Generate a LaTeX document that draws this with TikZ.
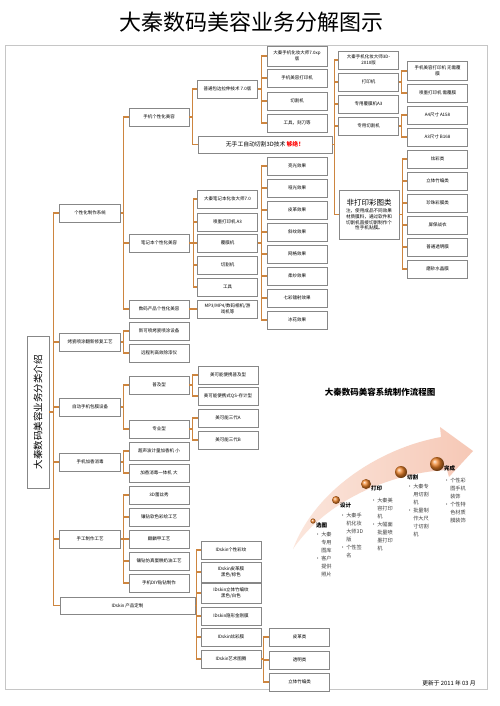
\documentclass[tikz,border=0pt]{standalone}
\usepackage{fontspec}
\setmainfont{Noto Sans CJK SC}
\usetikzlibrary{shadows}
\XeTeXlinebreaklocale "zh"
\definecolor{connc}{RGB}{205,133,63}
\definecolor{bordergray}{RGB}{135,135,135}
\newcommand\mybranch[3]{\foreach \ch in {#3}{\draw[ln] (#1.east) -- ++(#2,0) |- (\ch.west);}}
\newcommand\myb{•\,}
\newcommand\myi{\phantom{•\,}}
\begin{document}
\begin{tikzpicture}[x=1pt,y=-1pt,
 bx/.style={draw=bordergray, line width=0.6pt, fill=white, minimum width=60pt, minimum height=18pt,
   inner sep=0.5pt, align=center, font=\fontsize{4.5}{5.5}\selectfont,
   drop shadow={shadow xshift=0.9pt, shadow yshift=-0.9pt, fill=black, opacity=0.35}},
 ln/.style={draw=connc, line width=1.2pt},
 lbl/.style={font=\fontsize{5.5}{6}\selectfont\bfseries, anchor=west, inner sep=0pt},
 lst/.style={font=\fontsize{5.2}{8}\selectfont, anchor=north west, align=left, inner sep=0pt, text=black!75},
]
\useasboundingbox (0,0) rectangle (500,706);
\fill[white] (0,0) rectangle (500,706);
% frame
\draw[gray!45, line width=1pt] (5,46) rectangle (487,689);
% title
\node[font=\fontsize{22}{24}\selectfont] (title) at (251,22) {大秦数码美容业务分解图示};

% root
\node[bx, minimum width=22pt, minimum height=152pt] (root) at (38,412) {};
\node[rotate=90, font=\fontsize{9.5}{10}\selectfont] (roottext) at (root.center) {大秦数码美容业务分类介绍};

% level 1
\node[bx,minimum width=61pt] (a1) at (90,213) {个性化制作系统};
\node[bx,minimum width=61pt] (a2) at (90,342) {烤瓷喷涂翻新修复工艺};
\node[bx,minimum width=61pt] (a3) at (90,407) {自动手机包膜设备};
\node[bx,minimum width=61pt] (a4) at (90,462) {手机加香消毒};
\node[bx,minimum width=61pt] (a5) at (90,539) {手工制作工艺};
\node[bx,minimum width=135pt,minimum height=17pt] (a6) at (127.5,605.5) {IDskin 产品定制};

% level 2
\node[bx] (b1) at (159,117) {手机个性化美容};
\node[bx] (b2) at (159,243) {笔记本个性化美容};
\node[bx] (b3) at (159,309) {数码产品个性化美容};
\node[bx] (b4) at (159,331) {新可喷烤瓷喷涂设备};
\node[bx] (b5) at (159,353) {远程利高效除漆仪};
\node[bx] (b6) at (159,385) {普及型};
\node[bx] (b7) at (159,429) {专业型};
\node[bx] (b8) at (159,451) {超声波计量加香机 小};
\node[bx] (b9) at (159,473) {加香消毒一体机 大};
\node[bx] (b10) at (159,495) {3D蕾丝秀};
\node[bx] (b11) at (159,517) {镶钻软色彩绘工艺};
\node[bx] (b12) at (159,539) {麒麟甲工艺};
\node[bx] (b13) at (159,561) {镶钻仿真蛋糕奶油工艺};
\node[bx] (b14) at (159,583) {手机DIY贴钻制作};

% level 3
\node[bx] (c1) at (227.5,89) {普通包边拉伸技术 7.0版};
\node[bx,minimum width=134pt,minimum height=17pt,font=\fontsize{5.8}{6.5}\selectfont] (c2) at (265,144.5) {无手工自动切割3D技术 {\color{red}\bfseries 够绝！}};
\node[bx] (c3) at (227.5,199) {大秦笔记本化妆大师7.0};
\node[bx] (c4) at (227.5,222) {喷墨打印机 A3};
\node[bx] (c5) at (227.5,243) {覆膜机};
\node[bx] (c6) at (227.5,265) {切割机};
\node[bx] (c7) at (227.5,287) {工具};
\node[bx] (c8) at (227.5,309) {MP3/MP4/数码相机/游\\戏机等};
\node[bx] (c9) at (228,375) {美可能便携普及型};
\node[bx] (c10) at (228,396) {美可能便携式QS-存计型};
\node[bx] (c11) at (228,418) {美可能三代A};
\node[bx] (c12) at (228,440) {美可能三代B};
\node[bx] (d1) at (231,550) {IDskin个性彩纹};
\node[bx,minimum height=20pt] (d2) at (231,572) {IDskin皮革膜\\黑色/棕色};
\node[bx,minimum height=20pt] (d3) at (231,593) {IDskin立体竹编纹\\黑色/白色};
\node[bx] (d4) at (231,616) {IDskin隐形金刚膜};
\node[bx] (d5) at (231,637) {IDskin炫彩膜};
\node[bx] (d6) at (231,659) {IDskin艺术图腾};

% level 4
\node[bx,minimum height=20pt] (e1) at (297,56) {大秦手机化妆大师7.0xp\\版};
\node[bx] (e2) at (297,78) {手机美容打印机};
\node[bx] (e3) at (297,101) {切割机};
\node[bx] (e4) at (297,123) {工具，刻刀等};
\node[bx] (f1) at (297,166) {亮光效果};
\node[bx] (f2) at (297,188) {哑光效果};
\node[bx] (f3) at (297,210) {皮革效果};
\node[bx] (f4) at (297,232) {斜纹效果};
\node[bx] (f5) at (297,254) {网格效果};
\node[bx] (f6) at (297,276) {柔纱效果};
\node[bx] (f7) at (297,298) {七彩镭射效果};
\node[bx] (f8) at (297,320) {冰花效果};
\node[bx] (g1) at (299.5,637) {皮革类};
\node[bx] (g2) at (299.5,660) {透明类};
\node[bx] (g3) at (299.5,682) {立体竹编类};

% level 5
\node[bx,minimum height=18pt] (h1) at (368.5,60) {大秦手机化妆大师3D-\\2010版};
\node[bx] (h2) at (368.5,82) {打印机};
\node[bx] (h3) at (368.5,104) {专用覆膜机A3};
\node[bx] (h4) at (368.5,126) {专用切割机};
\node[bx,minimum height=49pt,text width=57pt] (h5) at (369,214.5)
 {{\fontsize{7.5}{10}\selectfont 非打印彩图类}\\[1pt]{\fontsize{4.6}{6}\selectfont 注，使用成品不同效果\\材质膜料，通过软件和\\切割机直接切割制作个\\性手机贴膜。}};

% level 6
\node[bx,minimum height=19pt] (i1) at (437.5,71) {手机美容打印机 无需覆\\膜};
\node[bx] (i2) at (437.5,93) {喷墨打印机 需覆膜};
\node[bx] (i3) at (437.5,115) {A4尺寸 A158};
\node[bx] (i4) at (437.5,137) {A3尺寸 B168};
\node[bx] (j1) at (437.5,159) {炫彩类};
\node[bx] (j2) at (437.5,181) {立体竹编类};
\node[bx] (j3) at (437.5,203) {珍珠彩膜类};
\node[bx] (j4) at (437.5,225) {屏保战衣};
\node[bx] (j5) at (437.5,247) {普通透明膜};
\node[bx] (j6) at (437.5,269) {磨砂水晶膜};

% connectors
\mybranch{root}{4}{a1,a2,a3,a4,a5,a6}
\mybranch{a1}{3}{b1,b2,b3}
\mybranch{a2}{3}{b4,b5}
\mybranch{a3}{3}{b6,b7}
\mybranch{a4}{3}{b8,b9}
\mybranch{a5}{3}{b10,b11,b12,b13,b14}
\mybranch{a6}{1.5}{d1,d2,d3,d4,d5,d6}
\mybranch{b1}{3.5}{c1,c2}
\mybranch{b2}{4}{c3,c4,c5,c6,c7}
\mybranch{b3}{4}{c8}
\mybranch{b6}{3}{c9,c10}
\mybranch{b7}{3}{c11,c12}
\mybranch{c1}{4}{e1,e2,e3,e4}
\mybranch{c5}{4}{f1,f2,f3,f4,f5,f6,f7,f8}
\mybranch{c2}{2}{h1,h2,h3,h4,h5}
\mybranch{h2}{3}{i1,i2}
\mybranch{h4}{3}{i3,i4}
\mybranch{h5}{3}{j1,j2,j3,j4,j5,j6}
\mybranch{d6}{2}{g1,g2,g3}

% flow chart
\node[font=\fontsize{8.5}{10}\selectfont\bfseries] (ftitle) at (380,392) {大秦数码美容系统制作流程图};
\shade[left color={rgb,255:red,251;green,230;blue,220}, right color={rgb,255:red,246;green,200;blue,182}]
 (293,549) .. controls (315,490) and (380,448) .. (441,437) -- (440,427) -- (473,451) -- (449,477) -- (447,470)
 .. controls (400,472) and (330,495) .. (293,549) -- cycle;
\shade[ball color={rgb,255:red,238;green,130;blue,40}] (313,521) circle (2.6pt);
\shade[ball color={rgb,255:red,238;green,130;blue,40}] (336,500) circle (4pt);
\shade[ball color={rgb,255:red,238;green,130;blue,40}] (366,484) circle (5pt);
\shade[ball color={rgb,255:red,238;green,130;blue,40}] (401,472) circle (6pt);
\shade[ball color={rgb,255:red,238;green,130;blue,40}] (437,464) circle (7pt);
\node[lbl] (s1) at (316,525) {选图};
\node[lbl] (s2) at (340,505) {设计};
\node[lbl] (s3) at (371,488) {打印};
\node[lbl] (s4) at (407,477) {切割};
\node[lbl] (s5) at (444,468) {完成};
\node[lst] (l1) at (315,532) {\myb 大秦\\\myi 专用\\\myi 图库\\\myb 客户\\\myi 提供\\\myi 照片};
\node[lst] (l2) at (340,513) {\myb 大秦手\\\myi 机化妆\\\myi 大师3D\\\myi 版\\\myb 个性签\\\myi 名};
\node[lst] (l3) at (371,498) {\myb 大秦美\\\myi 容打印\\\myi 机\\\myb 大幅面\\\myi 批量喷\\\myi 墨打印\\\myi 机};
\node[lst] (l4) at (407,484) {\myb 大秦专\\\myi 用切割\\\myi 机\\\myb 批量制\\\myi 作大尺\\\myi 寸切割\\\myi 机};
\node[lst] (l5) at (444,478) {\myb 个性彩\\\myi 图手机\\\myi 装饰\\\myb 个性特\\\myi 色材质\\\myi 膜装饰};

\node[font=\fontsize{5.8}{7}\selectfont] (foot) at (449,683) {更新于 2011 年 03 月};
\end{tikzpicture}
\end{document}
